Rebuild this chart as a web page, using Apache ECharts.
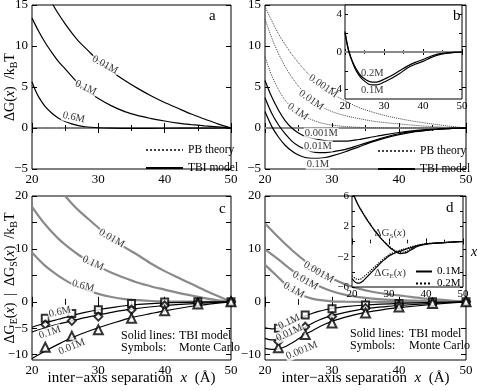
<!DOCTYPE html>
<html><head><meta charset="utf-8">
<script src="https://cdn.jsdelivr.net/npm/echarts@6.0.0/dist/echarts.min.js"></script>
<style>html,body{margin:0;padding:0;background:#fff}#c{width:478px;height:391px}</style>
</head><body><div id="c"></div>
<script>
// ---------- data ----------
// Panel a (TBI model)
const a_TBI_001M = [[22.6,16.2],[23.2,15.0],[24,13.9],[25,12.7],[26,11.6],[27,10.6],[28,9.8],[29,9.0],[30,8.2],[32,6.9],[34,5.8],[36,4.8],[38,3.9],[40,3.1],[42,2.4],[44,1.7],[46,1.1],[48,0.5],[50,0]];
const a_TBI_01M = [[20,13.4],[21,11.8],[22,10.4],[23,9.2],[24,8.1],[25,7.2],[26,6.3],[27,5.4],[28,4.7],[30,3.6],[32,2.7],[34,2.0],[36,1.5],[38,1.15],[40,0.85],[42,0.6],[44,0.42],[46,0.27],[48,0.13],[50,0]];
const a_TBI_06M = [[20,5.6],[20.5,4.6],[21,3.8],[22,2.6],[23,1.8],[24,1.2],[25,0.8],[26,0.5],[27,0.3],[28,0.15],[30,0.03],[32,-0.02],[35,-0.05],[40,-0.03],[45,-0.01],[50,0]];
// Panel b
const b_PB_0001M = [[20,14.8],[22,11.5],[24,9.0],[26,7.0],[28,5.4],[30,4.2],[32,3.3],[34,2.5],[36,1.95],[38,1.5],[40,1.15],[42,0.85],[44,0.6],[46,0.38],[48,0.18],[50,0]];
const b_PB_001M = [[20,13.3],[21,11.0],[22,9.1],[23,7.5],[24,6.2],[25,5.1],[26,4.2],[27,3.4],[28,2.8],[30,2.0],[32,1.5],[34,1.15],[36,0.85],[38,0.65],[40,0.5],[42,0.35],[44,0.22],[46,0.12],[48,0.05],[50,0]];
const b_PB_01M = [[20,8.7],[21,6.4],[22,4.7],[23,3.4],[24,2.5],[25,1.8],[26,1.35],[27,1.0],[28,0.7],[29,0.5],[30,0.35],[32,0.18],[34,0.08],[36,0.03],[40,0],[50,0]];
const b_TBI_0001M = [[20,5.8],[21,3.8],[22,2.2],[23,0.9],[24,0.0],[25,-0.6],[26,-1.0],[28,-1.4],[30,-1.6],[32,-1.6],[34,-1.4],[36,-1.1],[38,-0.8],[40,-0.55],[42,-0.35],[44,-0.2],[46,-0.1],[48,-0.04],[50,0]];
const b_TBI_001M = [[20,3.7],[21,1.8],[22,0.4],[23,-0.7],[24,-1.6],[25,-2.2],[26,-2.6],[27,-2.9],[28,-3.0],[29,-3.0],[30,-2.9],[32,-2.6],[34,-2.1],[36,-1.6],[38,-1.1],[40,-0.7],[42,-0.45],[44,-0.28],[46,-0.15],[48,-0.05],[50,0]];
const b_TBI_01M = [[20,2.0],[21,0.2],[22,-1.1],[23,-2.1],[24,-2.8],[25,-3.3],[26,-3.6],[27,-3.7],[28,-3.7],[29,-3.6],[30,-3.4],[32,-2.9],[34,-2.3],[36,-1.7],[38,-1.2],[40,-0.8],[42,-0.5],[44,-0.3],[46,-0.15],[48,-0.05],[50,0]];
// Inset b (TBI model, 0.1M and 0.2M)
const bi_TBI_01M = [[20,2.2],[20.5,1.0],[21,0.1],[22,-1.2],[23,-2.1],[24,-2.7],[25,-3.1],[26,-3.4],[27,-3.5],[28,-3.5],[29,-3.4],[30,-3.2],[32,-2.8],[34,-2.3],[36,-1.7],[38,-1.3],[40,-1.0],[42,-0.6],[44,-0.3],[46,-0.15],[48,-0.05],[50,0]];
const bi_TBI_02M = [[20,2.0],[20.5,0.9],[21,0.0],[22,-1.1],[23,-1.9],[24,-2.5],[25,-2.85],[26,-3.1],[27,-3.2],[28,-3.2],[29,-3.1],[30,-2.9],[32,-2.5],[34,-2.0],[36,-1.5],[38,-1.1],[40,-0.8],[42,-0.45],[44,-0.2],[46,-0.1],[48,-0.03],[50,0]];
// Panel c: grey = dG_S, black = dG_E (TBI), symbols = Monte Carlo
const c_S_001M = [[24.7,20.5],[25,20],[26,18.6],[27,17.3],[28,16.2],[30,14.0],[32,12.0],[34,10.3],[36,8.8],[38,7.2],[40,5.8],[42,4.6],[44,3.4],[46,2.2],[48,1.1],[50,0]];
const c_S_01M = [[20,18.0],[21,16.2],[22,14.6],[23,13.2],[24,11.9],[25,10.8],[26,9.8],[27,8.9],[28,8.1],[30,6.7],[32,5.5],[34,4.5],[36,3.6],[38,2.9],[40,2.3],[42,1.7],[44,1.2],[46,0.7],[48,0.3],[50,0]];
const c_S_06M = [[20,9.3],[21,8.0],[22,6.8],[23,5.8],[24,4.9],[25,4.1],[26,3.4],[27,2.8],[28,2.3],[30,1.5],[32,0.9],[34,0.5],[36,0.3],[38,0.15],[40,0.08],[45,0.02],[50,0]];
const c_E_06M = [[20,-4.8],[22,-4.0],[24,-3.3],[26,-2.6],[28,-2.0],[30,-1.5],[32,-1.1],[35,-0.6],[40,-0.2],[45,-0.05],[50,0]];
const c_E_01M = [[20,-5.7],[22,-4.9],[24,-4.2],[26,-3.6],[28,-3.0],[30,-2.5],[32,-2.0],[35,-1.4],[40,-0.7],[45,-0.3],[50,0]];
const c_E_001M = [[20,-10.7],[22,-9.3],[24,-8.0],[26,-6.8],[28,-5.8],[30,-4.9],[32,-4.1],[35,-3.0],[38,-2.2],[40,-1.7],[45,-0.7],[50,0]];
const c_MC_06M = [[22,-3.1],[26,-2.2],[30,-1.5],[35,-0.3],[40,-0.05],[45,0],[50,0]];
const c_MC_01M = [[22,-4.3],[26,-3.6],[30,-2.8],[35,-1.5],[40,-0.7],[45,-0.2],[50,0]];
const c_MC_001M = [[22,-8.6],[26,-6.5],[30,-5.3],[35,-3.1],[40,-1.7],[45,-0.4],[50,0]];
// Panel d
const d_S_0001M = [[20,14.8],[22,12.2],[24,9.8],[26,7.7],[28,5.9],[30,4.4],[32,3.3],[34,2.5],[36,1.9],[38,1.5],[40,1.2],[42,0.9],[44,0.6],[46,0.4],[48,0.2],[50,0]];
const d_S_001M = [[20,9.9],[22,8.0],[24,6.0],[26,4.3],[28,3.0],[30,2.0],[32,1.3],[34,0.9],[36,0.6],[38,0.4],[40,0.3],[44,0.15],[50,0]];
const d_S_01M = [[20,7.0],[21,5.8],[22,4.6],[23,3.4],[24,2.4],[25,1.6],[26,1.0],[27,0.6],[28,0.35],[30,0.1],[32,0.02],[36,0],[50,0]];
const d_E_01M = [[20,-4.9],[21,-5.1],[22,-5.0],[23,-4.6],[24,-4.0],[25,-3.3],[26,-2.7],[27,-2.2],[28,-1.8],[29,-1.5],[30,-1.25],[32,-0.9],[35,-0.6],[40,-0.3],[45,-0.1],[50,0]];
const d_E_001M = [[20,-6.9],[21,-7.2],[22,-7.2],[23,-6.8],[24,-6.2],[25,-5.5],[26,-4.8],[27,-4.1],[28,-3.5],[29,-3.0],[30,-2.6],[32,-2.0],[35,-1.3],[38,-0.9],[40,-0.7],[45,-0.3],[50,0]];
const d_E_0001M = [[20,-8.8],[21,-9.0],[22,-8.9],[23,-8.5],[24,-7.8],[25,-7.0],[26,-6.2],[27,-5.5],[28,-4.8],[29,-4.2],[30,-3.7],[32,-2.9],[35,-2.0],[38,-1.4],[40,-1.1],[45,-0.5],[50,0]];
const d_MC_01M = [[22,-5.0],[26,-2.5],[30,-1.3],[35,-0.6],[40,-0.3],[45,0],[50,0]];
const d_MC_001M = [[22,-7.5],[26,-4.7],[30,-2.8],[35,-1.2],[40,-0.6],[45,-0.2],[50,0]];
const d_MC_0001M = [[22,-8.7],[26,-6.2],[30,-4.0],[35,-2.1],[40,-1.0],[45,-0.3],[50,0]];
// Inset d (0.1M solid, 0.2M dotted)
const di_S_01M = [[20.4,6.3],[21,5.5],[22,4.5],[23,3.7],[24,2.9],[25,2.2],[26,1.5],[27,0.9],[28,0.3],[29,-0.2],[30,-0.7],[31,-1.1],[32,-1.4],[33,-1.6],[34,-1.55],[35,-1.4],[36,-1.1],[38,-0.6],[40,-0.35],[42,-0.25],[45,-0.15],[48,-0.05],[50,0]];
const di_S_02M = [[20.4,6.3],[21,5.5],[22,4.55],[23,3.75],[24,2.95],[25,2.25],[26,1.55],[27,0.95],[28,0.35],[29,-0.15],[30,-0.6],[31,-1.0],[32,-1.3],[33,-1.45],[34,-1.4],[35,-1.25],[36,-0.95],[38,-0.5],[40,-0.3],[42,-0.22],[45,-0.12],[48,-0.04],[50,0]];
const di_E_01M = [[20,-4.9],[21,-5.4],[22,-5.5],[23,-5.2],[24,-4.7],[25,-4.2],[26,-3.7],[27,-3.2],[28,-2.7],[29,-2.3],[30,-1.9],[31,-1.65],[32,-1.45],[33,-1.3],[34,-1.1],[36,-0.8],[38,-0.5],[40,-0.35],[42,-0.25],[45,-0.15],[48,-0.05],[50,0]];
const di_E_02M = [[20,-4.5],[21,-4.9],[22,-5.0],[23,-4.7],[24,-4.3],[25,-3.85],[26,-3.4],[27,-2.95],[28,-2.5],[29,-2.1],[30,-1.75],[31,-1.5],[32,-1.3],[33,-1.15],[34,-1.0],[36,-0.7],[38,-0.45],[40,-0.3],[42,-0.22],[45,-0.12],[48,-0.04],[50,0]];
const zeroLine = [[20,0],[50,0]];
// tick values
const yTicksCD = [-10, -5, 0, 5, 10, 15, 20];
const yLabelsC = [-10, -5, 0, 10, 20];
const yLabelsD = [-10, 0, 10, 20];
const yTicksBi = [-4, -2, 0, 2, 4];
const yLabelsBi = [-4, 0, 4];
const yLabelsDi = [-6, -2, 2, 6];
// curve annotations [x, y, text, rotation]
const a_labels = [[31,7.7,'0.01M',-28],[28.1,4.9,'0.1M',-25],[26.3,1.3,'0.6M',-12]];
const b_labels = [[28.7,5.1,'0.001M',-35],[26.9,3.4,'0.01M',-35],[24.9,2.0,'0.1M',-35],[28.4,-0.65,'0.001M',0],[27.9,-2.2,'0.01M',0],[27.9,-4.4,'0.1M',0]];
const bi_labels = [[27,-2.3,'0.2M',0],[27,-4.1,'0.1M',0]];
const c_labels = [[32,12.0,'0.01M',-30],[29.2,7.3,'0.1M',-25],[27.7,3.0,'0.6M',-15],[24.2,-1.9,'0.6M',12],[22.7,-5.8,'0.1M',18],[26,-8.5,'0.01M',22]];
const d_labels = [[28,5.6,'0.001M',-30],[26,4.0,'0.01M',-30],[24.3,2.2,'0.1M',-30],[23.6,-3.8,'0.1M',25],[23.6,-5.9,'0.01M',25],[25.5,-9.2,'0.001M',22]];
const di_labels = [[30.3,1.1,'{n|ΔG}{s|S}{n|(}{i|x}{n|)}',0],[30.3,-4.2,'{n|ΔG}{s|E}{n|(}{i|x}{n|)}',0]];

// ---------- chart ----------
const FONT = "'Liberation Serif','DejaVu Serif',serif";
const GREY = '#8a8a8a';
const fmt = v => v < 0 ? '\u2212' + (-v) : String(v);
const rich = (fs) => ({
  n: {fontFamily: FONT, fontSize: fs, color: '#000'},
  i: {fontFamily: FONT, fontSize: fs, color: '#000', fontStyle: 'italic'},
  s: {fontFamily: FONT, fontSize: Math.round(fs * 0.68), color: '#000', padding: [Math.round(fs * 0.55), 0, 0, 0]}
});

const grids = [
  {left: 32, top: 5, width: 199, height: 164},
  {left: 265, top: 5, width: 201, height: 164},
  {left: 32, top: 196, width: 199, height: 164},
  {left: 265, top: 196, width: 201, height: 164},
  {left: 345, top: 5, width: 117, height: 94, z: 10, backgroundColor: '#fff'},
  {left: 352, top: 196, width: 111, height: 91, z: 10, backgroundColor: '#fff'}
].map(g => Object.assign({show: true, borderColor: '#000', borderWidth: 1, containLabel: false, outerBoundsMode: 'none'}, g));

const X = [], Y = [];
function axesFor(g, o) {
  for (const pos of ['bottom', 'top']) {
    const ax = {
      type: 'value', gridIndex: g, position: pos, min: 20, max: 50, interval: 10, z: o.z,
      axisLine: {show: false}, splitLine: {show: false},
      axisTick: {show: true, inside: true, length: o.tl, lineStyle: {color: '#000', width: 1}},
      minorTick: {show: true, splitNumber: 2, length: o.tl * 0.6, lineStyle: {color: '#000', width: 1}},
      axisLabel: {show: pos === 'bottom', margin: o.xm, fontFamily: FONT, fontSize: o.fs, color: '#000', formatter: fmt, hideOverlap: false}
    };
    if (pos === 'bottom' && o.xName) {
      Object.assign(ax, {name: o.xName, nameLocation: 'middle', nameGap: o.xGap, nameMoveOverlap: false,
        nameTextStyle: {rich: rich(15)}});
    }
    X.push(ax);
  }
  for (const pos of ['left', 'right']) {
    const tick = {show: true, inside: true, length: o.tl, lineStyle: {color: '#000', width: 1}};
    if (o.yTicks) tick.customValues = o.yTicks;
    const lab = {show: pos === 'left', margin: o.ym, fontFamily: FONT, fontSize: o.fs, color: '#000', formatter: fmt, hideOverlap: false};
    if (o.yLabels) lab.customValues = o.yLabels;
    const ax = {
      type: 'value', gridIndex: g, position: pos, min: o.yMin, max: o.yMax, z: o.z,
      axisLine: {show: false}, splitLine: {show: false}, axisTick: tick, axisLabel: lab
    };
    if (o.yInt) ax.interval = o.yInt;
    if (pos === 'left' && o.yName) {
      Object.assign(ax, {name: o.yName, nameLocation: 'middle', nameGap: o.yGap, nameRotate: 90, nameMoveOverlap: false,
        nameTextStyle: {rich: rich(14)}});
    }
    Y.push(ax);
  }
}
axesFor(0, {z: 0, tl: 5, xm: 4, ym: 4, fs: 13, yMin: -5, yMax: 15, yInt: 5,
  yName: '{n|ΔG(}{i|x}{n|)  /k}{s|B}{n|T}', yGap: 13});
axesFor(1, {z: 0, tl: 5, xm: 4, ym: 4, fs: 13, yMin: -5, yMax: 15, yInt: 5});
axesFor(2, {z: 0, tl: 5, xm: 4, ym: 4, fs: 13, yMin: -11, yMax: 20, yTicks: yTicksCD, yLabels: yLabelsC,
  yName: '{n|ΔG}{s|E}{n|(}{i|x}{n|)  |  ΔG}{s|S}{n|(}{i|x}{n|)  /k}{s|B}{n|T}', yGap: 13,
  xName: '{n|inter\u2212axis separation  }{i|x}{n|  (Å)}', xGap: 11});
axesFor(3, {z: 0, tl: 5, xm: 4, ym: 4, fs: 13, yMin: -11, yMax: 20, yTicks: yTicksCD, yLabels: yLabelsD,
  xName: '{n|inter\u2212axis separation  }{i|x}{n|  (Å)}', xGap: 11});
axesFor(4, {z: 11, tl: 3, xm: 2, ym: 3, fs: 11, yMin: -5, yMax: 5, yTicks: yTicksBi, yLabels: yLabelsBi});
axesFor(5, {z: 11, tl: 3, xm: 2, ym: 3, fs: 11, yMin: -6, yMax: 6, yInt: 2, yLabels: yLabelsDi});

const series = [];
function line(g, data, color, width, type, name, z) {
  series.push({type: 'line', name: name, xAxisIndex: g * 2, yAxisIndex: g * 2, data: data,
    symbol: 'none', showSymbol: false, smooth: 0.3, clip: true, z: z || 2, silent: true,
    itemStyle: {color: color}, lineStyle: {color: color, width: width, type: type}});
}
function marks(g, data, symbol, size) {
  series.push({type: 'scatter', xAxisIndex: g * 2, yAxisIndex: g * 2, data: data, symbol: symbol,
    symbolSize: size, z: 4, silent: true,
    itemStyle: {color: '#000', borderColor: '#000', borderWidth: 0.8}});
}
function labels(g, items, fs, z, bg) {
  series.push({type: 'scatter', xAxisIndex: g * 2, yAxisIndex: g * 2, symbolSize: 0, z: z || 5, silent: true,
    data: items.map(([x, y, t, r]) => ({value: [x, y], label: {formatter: t, rotate: r}})),
    label: {show: true, position: 'inside', fontFamily: FONT, fontSize: fs, color: '#000',
      backgroundColor: bg === false ? 'transparent' : '#fff', padding: [0, 1], rich: rich(fs)}});
}
// panel a
line(0, zeroLine, '#000', 1, 'solid');
line(0, a_TBI_001M, '#000', 1.2, 'solid', 'TBI model');
line(0, a_TBI_01M, '#000', 1.2, 'solid', 'TBI model');
line(0, a_TBI_06M, '#000', 1.2, 'solid', 'TBI model');
labels(0, a_labels, 10.5);
// panel b
line(1, zeroLine, GREY, 2, 'solid');
line(1, b_PB_0001M, '#444', 1, 'dotted', 'PB theory');
line(1, b_PB_001M, '#444', 1, 'dotted', 'PB theory');
line(1, b_PB_01M, '#444', 1, 'dotted', 'PB theory');
line(1, b_TBI_0001M, '#000', 1.2, 'solid', 'TBI model');
line(1, b_TBI_001M, '#000', 1.2, 'solid', 'TBI model');
line(1, b_TBI_01M, '#000', 1.2, 'solid', 'TBI model');
labels(1, b_labels, 10.5);
// panel c
line(2, c_S_001M, GREY, 2.2, 'solid');
line(2, c_S_01M, GREY, 2.2, 'solid');
line(2, c_S_06M, GREY, 2.2, 'solid');
line(2, c_E_06M, '#000', 1.2, 'solid');
line(2, c_E_01M, '#000', 1.2, 'solid');
line(2, c_E_001M, '#000', 1.2, 'solid');
marks(2, c_MC_06M, 'emptyRect', 7);
marks(2, c_MC_01M, 'emptyDiamond', 8);
marks(2, c_MC_001M, 'emptyTriangle', 9);
labels(2, c_labels, 10.5);
// panel d
line(3, d_S_0001M, GREY, 2.2, 'solid');
line(3, d_S_001M, GREY, 2.2, 'solid');
line(3, d_S_01M, GREY, 2.2, 'solid');
line(3, d_E_01M, '#000', 1.2, 'solid');
line(3, d_E_001M, '#000', 1.2, 'solid');
line(3, d_E_0001M, '#000', 1.2, 'solid');
marks(3, d_MC_01M, 'emptyRect', 7);
marks(3, d_MC_001M, 'emptyDiamond', 8);
marks(3, d_MC_0001M, 'emptyTriangle', 9);
labels(3, d_labels, 10.5);
// inset b
line(4, zeroLine, GREY, 2, 'solid', 'zero b', 12);
line(4, bi_TBI_01M, '#000', 1.2, 'solid', 'inset b 0.1M', 12);
line(4, bi_TBI_02M, '#000', 1.2, 'solid', 'inset b 0.2M', 12);
labels(4, bi_labels, 10.5, 13, false);
// inset d
line(5, di_S_01M, '#000', 1.2, 'solid', '0.1M', 12);
line(5, di_S_02M, '#000', 1.2, 'dotted', '0.2M', 12);
line(5, di_E_01M, '#000', 1.2, 'solid', '0.1M', 12);
line(5, di_E_02M, '#000', 1.2, 'dotted', '0.2M', 12);
labels(5, di_labels, 11, 13, false);

const legendBase = {orient: 'vertical', selectedMode: false, itemWidth: 37, itemHeight: 12, itemGap: 6,
  itemStyle: {opacity: 0}, textStyle: {fontFamily: FONT, fontSize: 11.5, color: '#000'},
  data: ['PB theory', 'TBI model']};
const txt = (x, y, t, fs, extra) => ({type: 'text', x: x, y: y, z: 20,
  style: Object.assign({text: t, fontFamily: FONT, fontSize: fs, fill: '#000', textVerticalAlign: 'middle'}, extra || {})});

const chart = echarts.init(document.getElementById('c'), null, {renderer: 'canvas'});
chart.setOption({
  animation: false,
  backgroundColor: '#fff',
  grid: grids,
  xAxis: X,
  yAxis: Y,
  legend: [
    Object.assign({}, legendBase, {left: 140, top: 139}),
    Object.assign({}, legendBase, {left: 372, top: 140}),
    {orient: 'vertical', selectedMode: false, left: 410, top: 261, itemWidth: 16, itemHeight: 8, itemGap: 1, z: 14,
      itemStyle: {opacity: 0}, textStyle: {fontFamily: FONT, fontSize: 11, color: '#000'}, data: ['0.1M', '0.2M']}
  ],
  graphic: [
    txt(209, 16, 'a', 15), txt(453, 16, 'b', 15), txt(219, 209, 'c', 15), txt(446, 208, 'd', 15),
    txt(471, 252, 'x', 14, {fontStyle: 'italic'}),
    txt(121, 336, 'Solid lines:', 12), txt(179, 336, 'TBI model', 12),
    txt(121, 348, 'Symbols:', 12), txt(179, 348, 'Monte Carlo', 12),
    txt(350, 334, 'Solid lines:', 12), txt(409, 334, 'TBI model', 12),
    txt(350, 346, 'Symbols:', 12), txt(409, 346, 'Monte Carlo', 12)
  ],
  series: series
});
</script></body></html>
